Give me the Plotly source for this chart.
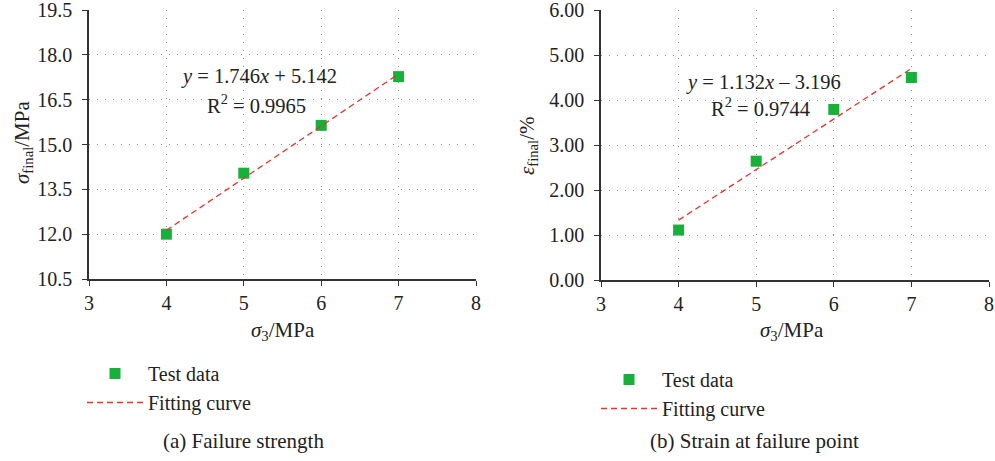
import plotly.graph_objects as go

sigma3 = [4, 5, 6, 7]
sigma_final = [12.0, 14.04, 15.64, 17.27]
strain_final = [1.11, 2.64, 3.79, 4.50]
fit_x = [4, 7]
fit_a = [12.13, 17.36]
fit_b = [1.33, 4.70]

eq_a = ["<i>y</i> = 1.746<i>x</i> + 5.142", "R<sup>2</sup> = 0.9965"]
eq_b = ["<i>y</i> = 1.132<i>x</i> – 3.196", "R<sup>2</sup> = 0.9744"]
captions = ["(a) Failure strength", "(b) Strain at failure point"]

W, H = 995, 461
FONT = "Liberation Serif"
GREEN = "#17b03a"
RED = "#e8322a"
TXT = "#222222"

def px(x):
    return x / W

def py(y):
    return 1 - y / H

fig = go.Figure()
fig.add_trace(go.Scatter(x=sigma3, y=sigma_final, mode="markers", name="Test data",
                         marker=dict(symbol="square", size=11, color=GREEN),
                         xaxis="x", yaxis="y", legend="legend"))
fig.add_trace(go.Scatter(x=fit_x, y=fit_a, mode="lines", name="Fitting curve",
                         line=dict(color=RED, width=1.3, dash="6px,4px"),
                         xaxis="x", yaxis="y", legend="legend"))
fig.add_trace(go.Scatter(x=sigma3, y=strain_final, mode="markers", name="Test data",
                         marker=dict(symbol="square", size=11, color=GREEN),
                         xaxis="x2", yaxis="y2", legend="legend2"))
fig.add_trace(go.Scatter(x=fit_x, y=fit_b, mode="lines", name="Fitting curve",
                         line=dict(color=RED, width=1.3, dash="6px,4px"),
                         xaxis="x2", yaxis="y2", legend="legend2"))

axis_common = dict(showline=True, linecolor="#333333", linewidth=1.5,
                   ticks="outside", ticklen=5, tickcolor="#333333",
                   showgrid=True, gridcolor="#888888", gridwidth=1, griddash="1px,7px",
                   zeroline=False, automargin=False, ticklabeloverflow="allow",
                   tickfont=dict(family=FONT, size=20, color=TXT))

xcommon = dict(axis_common, ticklabelstandoff=0)
ycommon = dict(axis_common, ticklabelstandoff=6)

fig.update_layout(
    width=W, height=H, margin=dict(l=0, r=0, t=0, b=0, autoexpand=False),
    paper_bgcolor="white", plot_bgcolor="white",
    font=dict(family=FONT, size=20, color=TXT),
    xaxis=dict(domain=[px(89), px(476)], range=[3, 8], dtick=1, anchor="y", **xcommon),
    yaxis=dict(domain=[py(279), py(10)], range=[10.5, 19.5], dtick=1.5, tickformat=".1f",
               anchor="x", **ycommon),
    xaxis2=dict(domain=[px(601), px(989)], range=[3, 8], dtick=1, anchor="y2", **xcommon),
    yaxis2=dict(domain=[py(280), py(10)], range=[0, 6], dtick=1, tickformat=".2f",
                anchor="x2", **ycommon),
    legend=dict(x=px(82), y=py(354), xanchor="left", yanchor="top", itemwidth=56,
                font=dict(family=FONT, size=20, color=TXT), bgcolor="rgba(0,0,0,0)",
                tracegroupgap=0),
    legend2=dict(x=px(596), y=py(360), xanchor="left", yanchor="top", itemwidth=56,
                 font=dict(family=FONT, size=20, color=TXT), bgcolor="rgba(0,0,0,0)",
                 tracegroupgap=0),
    showlegend=True,
)

ann = []
def add(text, x, y, xref, yref, size, angle=0):
    ann.append(dict(text=text, x=x, y=y, xref=xref, yref=yref, showarrow=False,
                    xanchor="center", yanchor="middle", textangle=angle,
                    font=dict(size=size)))

add(eq_a[0], 5.19, 17.29, "x", "y", 20.5)
add(eq_a[1], 5.16, 16.35, "x", "y", 20.5)
add(eq_b[0], 5.09, 4.38, "x2", "y2", 20.5)
add(eq_b[1], 5.06, 3.84, "x2", "y2", 20.5)
add("<i>σ</i><sub>3</sub>/MPa", px(283), py(331), "paper", "paper", 21)
add("<i>σ</i><sub>3</sub>/MPa", px(792), py(331), "paper", "paper", 21)
add("<i>σ</i><sub>final</sub>/MPa", px(23), py(143), "paper", "paper", 21, -90)
add("<i>ε</i><sub>final</sub>/%", px(528), py(146), "paper", "paper", 21, -90)
add(captions[0], px(243), py(441), "paper", "paper", 21)
add(captions[1], px(754), py(441), "paper", "paper", 21)
fig.update_layout(annotations=ann)

fig.write_html("out.html")
